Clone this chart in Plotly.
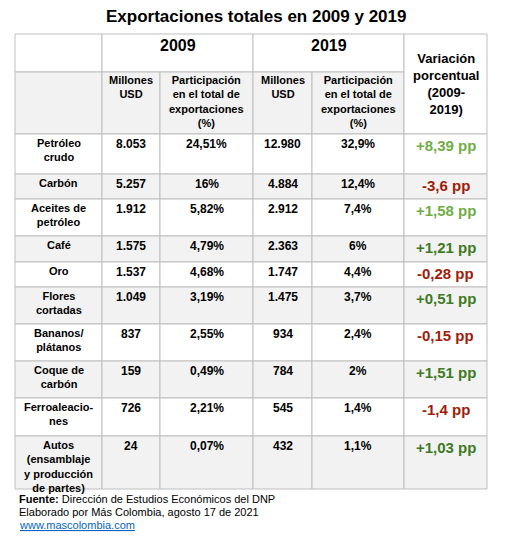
import plotly.graph_objects as go

productos = ["Petróleo<br>crudo", "Carbón", "Aceites de<br>petróleo", "Café", "Oro", "Flores<br>cortadas",
             "Bananos/<br>plátanos", "Coque de<br>carbón", "Ferroaleacio-<br>nes",
             "Autos<br>(ensamblaje<br>y producción<br>de partes)"]
millones_2009 = ["8.053", "5.257", "1.912", "1.575", "1.537", "1.049", "837", "159", "726", "24"]
part_2009 = ["24,51%", "16%", "5,82%", "4,79%", "4,68%", "3,19%", "2,55%", "0,49%", "2,21%", "0,07%"]
millones_2019 = ["12.980", "4.884", "2.912", "2.363", "1.747", "1.475", "934", "784", "545", "432"]
part_2019 = ["32,9%", "12,4%", "7,4%", "6%", "4,4%", "3,7%", "2,4%", "2%", "1,4%", "1,1%"]
variacion = [8.39, -3.6, 1.58, 1.21, -0.28, 0.51, -0.15, 1.51, -1.4, 1.03]
variacion_txt = ["+8,39 pp", "-3,6 pp", "+1,58 pp", "+1,21 pp", "-0,28 pp", "+0,51 pp",
                 "-0,15 pp", "+1,51 pp", "-1,4 pp", "+1,03 pp"]
var_colors = ["#70ad47", "#a01d0a", "#70ad47", "#3f7a24", "#a01d0a", "#3f7a24",
              "#a01d0a", "#3f7a24", "#a01d0a", "#3f7a24"]

cols = [15, 102, 160, 253, 312, 404, 487]
row_edges = [134, 174, 199, 236, 262, 287, 324, 361, 398, 436, 489]
top, mid = 34, 72
FONT = "Liberation Sans, Arial"
GRAY = "#f2f2f2"
LINE = "#bfbfbf"

fig = go.Figure()
shapes = []
ann = []

def rect(x0, y0, x1, y1, fill):
    shapes.append(dict(type="rect", xref="x", yref="y", x0=x0, x1=x1, y0=y0, y1=y1,
                       fillcolor=fill, line=dict(color=LINE, width=1), layer="below"))

def text(x, y, t, size=12, color="black", bold=True, yanchor="top", xanchor="center"):
    ann.append(dict(x=x, y=y, xref="x", yref="y", text=f"<b>{t}</b>" if bold else t,
                    showarrow=False, xanchor=xanchor, yanchor=yanchor,
                    font=dict(family=FONT, size=size, color=color)))

# header
rect(cols[0], top, cols[1], mid, "white")
rect(cols[1], top, cols[3], mid, "white")
rect(cols[3], top, cols[5], mid, "white")
rect(cols[0], mid, cols[1], row_edges[0], GRAY)
for i in range(1, 5):
    rect(cols[i], mid, cols[i + 1], row_edges[0], GRAY)
rect(cols[5], top, cols[6], row_edges[0], "white")
text((cols[1] + cols[3]) / 2, top + 1, "2009", size=16)
text((cols[3] + cols[5]) / 2, top + 1, "2019", size=16)
text((cols[5] + cols[6]) / 2, 49, "Variación<br>porcentual<br>(2009-<br>2019)", size=13)
for i, t in [(1, "Millones<br>USD"), (2, "Participación<br>en el total de<br>exportaciones<br>(%)"),
             (3, "Millones<br>USD"), (4, "Participación<br>en el total de<br>exportaciones<br>(%)")]:
    text((cols[i] + cols[i + 1]) / 2, mid, t, size=11)

for r in range(len(productos)):
    y0, y1 = row_edges[r], row_edges[r + 1]
    fill = "white" if r % 2 == 0 else GRAY
    for c in range(6):
        rect(cols[c], y0, cols[c + 1], y1, fill)
    vals = [productos[r], millones_2009[r], part_2009[r], millones_2019[r], part_2019[r]]
    for c, v in enumerate(vals):
        text((cols[c] + cols[c + 1]) / 2, y0 + 1, v, size=12 if c else 11)
    text((cols[5] + cols[6]) / 2, y0 + 1, variacion_txt[r], size=15, color=var_colors[r])

text(256, 16, "Exportaciones totales en 2009 y 2019", size=17, yanchor="middle")
text(17, 491, "<b>Fuente:</b> Dirección de Estudios Económicos del DNP", size=11, bold=False, xanchor="left")
text(17, 504, "Elaborado por Más Colombia, agosto 17 de 2021", size=11, bold=False, xanchor="left")
text(17, 517, "<u>www.mascolombia.com</u>", size=11, bold=False, xanchor="left", color="#0563c1")

fig.update_layout(width=511, height=537, margin=dict(l=0, r=0, t=0, b=0),
                  paper_bgcolor="white", plot_bgcolor="white",
                  shapes=shapes, annotations=ann, showlegend=False,
                  xaxis=dict(range=[8, 519], visible=False, fixedrange=True),
                  yaxis=dict(range=[545, 8], visible=False, fixedrange=True))
fig.write_html("out.html")
